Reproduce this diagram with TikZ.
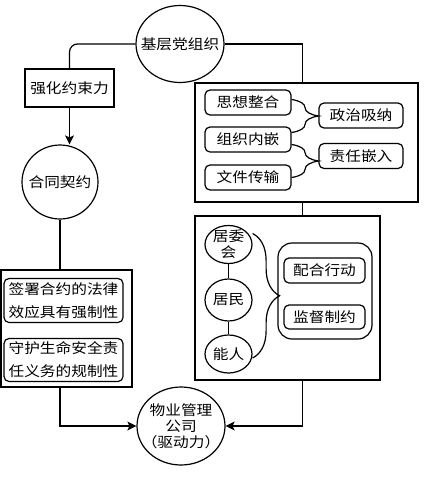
\documentclass[tikz,border=0pt]{standalone}
\usepackage{fontspec}
\newfontfamily\cjk[FakeStretch=1.12]{Noto Sans CJK SC}
\usetikzlibrary{shapes.geometric,arrows.meta,decorations.pathreplacing,calc}

\tikzset{
  yuan/.style={ellipse, draw, inner sep=-12pt, align=center},
  kuang/.style={rectangle, draw, inner sep=0pt},
  xiaokuang/.style={rectangle, draw, rounded corners=5pt, inner sep=0pt, minimum height=25pt, align=center},
  kuohao/.style={decorate, decoration={brace, amplitude=27pt}},
  liangxing/.style={font=\cjk\fontsize{14}{23}\selectfont}
}

\begin{document}
\begin{tikzpicture}[x=1pt, y=-1pt, line width=1.2pt,
  font=\cjk\fontsize{14}{16}\selectfont,
  >={Stealth[length=9pt,width=9pt,inset=2pt]}]
  \useasboundingbox (0,0) rectangle (434,477);

  % outer frames
  \node[kuang, minimum width=223pt, minimum height=119pt] (kuangA) at (306.5,142.5) {};
  \node[kuang, minimum width=185pt, minimum height=164pt] (kuangB) at (287.5,298) {};
  \node[kuang, minimum width=131pt, minimum height=117pt] (kuangC) at (66.5,328.5) {};

  % left branch
  \node[yuan, minimum width=88pt, minimum height=77pt] (dang) at (180,44) {基层党组织};
  \node[kuang, minimum width=89pt, minimum height=38pt] (yueshu) at (69.5,88) {强化约束力};
  \node[yuan, minimum width=76pt, minimum height=74pt] (hetong) at (60,182) {合同契约};
  \node[xiaokuang, liangxing, minimum width=119pt, minimum height=44pt] (qianshu) at (63.5,300.5) {签署合约的法律\\效应具有强制性};
  \node[xiaokuang, liangxing, minimum width=119pt, minimum height=43pt] (shouhu) at (63.5,360) {守护生命安全责\\任义务的规制性};
  \node[yuan, minimum width=88pt, minimum height=78pt] (wuye) at (181,426) {物业管理\\公司\\（驱动力）};

  % right branch, top frame
  \node[xiaokuang, minimum width=86pt] (sixiang) at (248,102.5) {思想整合};
  \node[xiaokuang, minimum width=86pt] (zuzhi) at (248,139.5) {组织内嵌};
  \node[xiaokuang, minimum width=86pt] (wenjian) at (248,177.5) {文件传输};
  \node[xiaokuang, minimum width=84pt] (zhengzhi) at (361,115.5) {政治吸纳};
  \node[xiaokuang, minimum width=84pt] (zeren) at (361,156) {责任嵌入};

  % right branch, bottom frame
  \node[yuan, minimum width=47pt, minimum height=38pt] (juwei) at (228.5,244.5) {居委\\会};
  \node[yuan, minimum width=47pt, minimum height=42pt] (jumin) at (228.5,300) {居民};
  \node[yuan, minimum width=47pt, minimum height=38pt] (nengren) at (228.5,354) {能人};
  \node[kuang, rounded corners=14pt, minimum width=94pt, minimum height=96pt] (huan) at (325,291) {};
  \node[xiaokuang, minimum width=81pt] (peihe) at (324.5,270.5) {配合行动};
  \node[xiaokuang, minimum width=81pt, minimum height=24pt] (jiandu) at (324.5,317) {监督制约};

  % connectors
  \draw[rounded corners=8pt] (dang.west) -| (yueshu.north);
  \draw[->] (yueshu.south) -- (yueshu.south |- hetong.north);
  \draw (hetong.south) -- (hetong.south |- kuangC.north);
  \draw[->] (hetong.south |- kuangC.south) |- (wuye.west);
  \draw (dang.east) -| ([xshift=-4pt]kuangA.north);
  \draw ([xshift=-4pt]kuangA.south) -- ([xshift=-4pt]kuangA.south |- kuangB.north);
  \draw[->] ([xshift=15pt]kuangB.south) |- (wuye.east);
  \draw (juwei) -- (jumin);
  \draw (jumin) -- (nengren);

  % braces
  \draw[kuohao] ($(sixiang.east)+(0,-3)$) -- ($(zuzhi.east)+(0,-7)$);
  \draw[kuohao] ($(zuzhi.east)+(0,5)$) -- (wenjian.east);
  \draw[kuohao] ($(juwei.east)+(0,-11)$) -- ($(nengren.east)+(0,4)$);
\end{tikzpicture}
\end{document}
